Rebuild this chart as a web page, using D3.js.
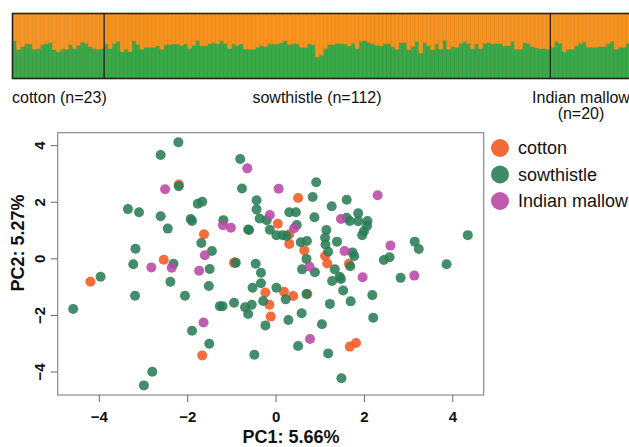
<!DOCTYPE html>
<html>
<head>
<meta charset="utf-8">
<script src="https://cdn.jsdelivr.net/npm/d3@7"></script>
<style>
  body { margin: 0; background: #fff; }
  svg { font-family: "Liberation Sans", Arial, sans-serif; }
</style>
</head>
<body>
<div id="chart"></div>
<script>
// ancestry proportions (share of the green cluster per individual)
const cottonAnc = [0.58,0.44,0.49,0.53,0.53,0.45,0.46,0.52,0.54,0.55,0.44,0.41,0.45,0.45,0.52,0.46,0.51,0.56,0.54,0.49,0.46,0.45,0.46];
const sowAnc = [0.53,0.46,0.54,0.57,0.41,0.45,0.41,0.58,0.52,0.45,0.48,0.48,0.48,0.50,0.45,0.52,0.52,0.53,0.53,0.51,
  0.53,0.46,0.51,0.58,0.50,0.50,0.53,0.55,0.53,0.58,0.54,0.46,0.53,0.51,0.53,0.45,0.45,0.45,0.48,0.51,
  0.49,0.53,0.53,0.53,0.55,0.58,0.52,0.53,0.53,0.48,0.48,
  0.53,0.52,0.33,0.36,0.46,0.52,0.52,0.54,0.53,0.53,0.50,0.54,0.46,0.57,0.58,0.55,0.53,0.51,0.50,0.53,
  0.54,0.49,0.45,0.55,0.55,0.44,0.49,0.57,0.39,0.55,0.50,0.44,0.53,0.45,0.59,0.45,0.49,0.48,0.54,0.57,
  0.54,0.46,0.53,0.46,0.54,0.55,0.53,0.54,0.54,0.50,0.50,0.57,0.45,0.45,0.55,0.54,0.49,0.47,0.46,0.46,0.45];
const mallowAnc = [0.48,0.57,0.54,0.41,0.45,0.45,0.50,0.54,0.56,0.48,0.48,0.48,0.49,0.49,0.53,0.57,0.45,0.48,0.48,0.54];

const groups = ["cotton", "sowthistle", "Indian mallow"];
const groupLabels = [["cotton (n=23)"], ["sowthistle (n=112)"], ["Indian mallow", "(n=20)"]];

// PCA scores [PC1, PC2]
const cottonPts = [[0.05,1.22],[-2.19,2.61],[-1.62,0.85],[-2.53,-0.05],[-0.94,-0.16],[-4.19,-0.83],[-0.23,-1.21],
  [0.19,-1.18],[-0.14,-1.64],[-0.11,-2.06],[-1.66,-3.43],[0.51,2.13],[0.31,0.85],[0.31,0.51],[0.65,0.28],
  [1.12,0.08],[1.17,-0.18],[1.66,-0.19],[0.40,-1.33],[0.72,-1.26],[1.68,-3.12],[1.82,-2.99],[-0.92,-0.14]];
const sowPts = [[-2.20,4.10],[-2.60,3.65],[-0.80,3.51],[-2.19,2.55],[-0.76,2.47],[-0.43,2.05],[-1.76,1.93],[-1.66,2.00],
  [-0.43,1.73],[-3.34,1.74],[-3.09,1.63],[-2.60,1.49],[-0.36,1.41],[-0.20,1.35],[-1.92,1.39],[-1.89,1.32],
  [-1.18,1.35],[-2.44,1.05],[-0.62,1.02],[-0.60,1.00],[-0.13,1.01],[0.02,0.82],[0.16,0.82],[0.25,0.79],
  [-1.68,0.54],[-1.44,0.26],[-3.17,0.34],[-2.31,-0.19],[-3.22,-0.21],[-0.90,-0.16],[-0.45,-0.19],[-1.49,-0.38],
  [-0.33,-0.51],[-3.96,-0.65],[-2.38,-0.83],
  [-4.58,-1.79],[-3.18,-1.32],[-1.51,-0.98],[-2.05,-1.32],[-0.33,-0.88],[-0.52,-1.04],[0.02,-1.04],[0.23,-1.45],
  [-0.28,-1.51],[-0.94,-1.57],[-1.26,-1.69],[-1.20,-1.69],[-0.69,-1.73],[-0.54,-1.64],[-0.62,-1.97],[-0.23,-2.37],
  [0.29,-2.18],[-1.89,-2.56],[-1.50,-3.02],[-0.48,-3.41],[-2.79,-4.01],[-2.98,-4.49],
  [0.92,2.69],[0.84,2.17],[1.27,1.84],[1.61,2.07],[0.31,1.63],[0.46,1.63],[0.88,1.45],[0.48,1.18],[1.61,1.43],
  [1.68,1.32],[1.87,1.59],[1.87,1.31],[2.08,1.32],[2.07,1.15],[2.00,0.96],[1.96,0.82],[1.15,1.00],[1.12,0.73],
  [1.13,0.49],[1.19,0.23],[1.39,0.59],[0.57,0.57],[0.71,0.61],[0.70,-0.02],[1.74,0.21],[1.78,0.08],[1.69,-0.28],
  [0.60,-0.39],[0.89,-0.49],[1.34,-0.39],[1.45,-0.65],[1.48,-0.73],[1.28,-0.80],[3.15,0.59],[3.24,0.33],
  [2.45,-0.06],[2.58,0.04],[2.83,-0.69],[3.87,-0.21],[4.35,0.82],
  [0.70,-1.26],[1.53,-1.14],[1.23,-1.61],[1.70,-1.52],[2.19,-1.30],[2.21,-2.10],[0.59,-1.94],[1.05,-2.33],
  [0.51,-3.10],[1.19,-3.36],[1.49,-4.24]];
const mallowPts = [[-0.64,3.18],[-2.50,2.44],[0.07,2.46],[-0.13,1.53],[-1.19,1.17],[-1.01,1.08],[-1.60,0.11],
  [-2.35,-0.33],[-2.81,-0.32],[-1.73,-0.44],[-1.63,-2.27],[2.31,2.23],[0.42,1.06],[1.48,1.39],[1.56,0.26],
  [0.77,-0.30],[1.97,-0.67],[2.60,0.45],[3.14,-0.61],[0.78,-2.85]];

const xTicks = [-4, -2, 0, 2, 4];
const yTicks = [-4, -2, 0, 2, 4];
const pcLabels = ["PC1: 5.66%", "PC2: 5.27%"];

const ptColor = {"cotton": "#f25a22", "sowthistle": "#2a7d57", "Indian mallow": "#b848a6"};
const barGreen = "#3aaa48", barOrange = "#f7931e";

let svg = d3.select("#chart").append("svg").attr("width", 629).attr("height", 447);

// ---- structure bar plot ----
let anc = cottonAnc.concat(sowAnc, mallowAnc);
let counts = [cottonAnc.length, sowAnc.length, mallowAnc.length];
let bar = {
  x: d3.scaleBand().domain(d3.range(anc.length)).range([12.5, 630]).padding(0),
  y: d3.scaleLinear().domain([0, 1]).range([78.5, 13.5])
};

let bars = svg.append("g").attr("id", "bars");
bars.selectAll(".bar-green").data(anc).enter().append("rect")
  .attr("class", "bar-green")
  .attr("x", (d, i) => bar.x(i))
  .attr("width", bar.x.bandwidth())
  .attr("y", d => bar.y(d))
  .attr("height", d => bar.y(0) - bar.y(d))
  .attr("fill", barGreen).attr("stroke", "#2f8e3b").attr("stroke-width", 0.5);
bars.selectAll(".bar-orange").data(anc).enter().append("rect")
  .attr("class", "bar-orange")
  .attr("x", (d, i) => bar.x(i))
  .attr("width", bar.x.bandwidth())
  .attr("y", bar.y(1))
  .attr("height", d => bar.y(d) - bar.y(1))
  .attr("fill", barOrange).attr("stroke", "#d9821a").attr("stroke-width", 0.5);

// group separators
let cum = 0;
counts.slice(0, -1).forEach(function(c){
  cum += c;
  let sx = bar.x(cum);
  bars.append("line").attr("x1", sx).attr("x2", sx).attr("y1", bar.y(1)).attr("y2", bar.y(0))
    .attr("stroke", "#222").attr("stroke-width", 1.3);
});
bars.append("rect").attr("x", bar.x(0)).attr("y", bar.y(1))
  .attr("width", bar.x(anc.length - 1) + bar.x.bandwidth() - bar.x(0))
  .attr("height", bar.y(0) - bar.y(1))
  .attr("fill", "none").attr("stroke", "#222").attr("stroke-width", 1.6);

// group labels under the bars
let labelPos = [{x: 12, anchor: "start"}, {x: 317, anchor: "middle"}, {x: 581, anchor: "middle"}];
groupLabels.forEach(function(lines, gi){
  let t = svg.append("text").attr("x", labelPos[gi].x).attr("y", 103)
    .attr("text-anchor", labelPos[gi].anchor).style("font-size", "16px").attr("fill", "#111");
  lines.forEach(function(l, li){
    t.append("tspan").attr("x", labelPos[gi].x).attr("dy", li == 0 ? 0 : 16).text(l);
  });
});

// ---- PCA scatter ----
let pca = {
  x: d3.scaleLinear().domain([-4.93, 4.71]).range([57.7, 483.7]),
  y: d3.scaleLinear().domain([-4.83, 4.44]).range([395, 132.7])
};

svg.append("rect").attr("x", pca.x.range()[0]).attr("y", pca.y.range()[1])
  .attr("width", pca.x.range()[1] - pca.x.range()[0])
  .attr("height", pca.y.range()[0] - pca.y.range()[1])
  .attr("fill", "none").attr("stroke", "#8a8a8a").attr("stroke-width", 1.2);

let xAxis = svg.append("g").attr("transform", "translate(0," + pca.y.range()[0] + ")")
  .call(d3.axisBottom(pca.x).tickValues(xTicks).tickSize(7).tickPadding(9));
xAxis.select(".domain").remove();
xAxis.selectAll("line").attr("stroke", "#666");
xAxis.selectAll("text").style("font-size", "15px").style("font-weight", "bold").attr("fill", "#111");

let yAxis = svg.append("g").attr("transform", "translate(" + pca.x.range()[0] + ",0)")
  .call(d3.axisLeft(pca.y).tickValues(yTicks).tickSize(7));
yAxis.select(".domain").remove();
yAxis.selectAll("line").attr("stroke", "#666");
yAxis.selectAll("text")
  .attr("x", 0).attr("y", -13).attr("dy", 0)
  .attr("transform", "rotate(-90)")
  .style("text-anchor", "middle")
  .style("font-size", "15px").style("font-weight", "bold").attr("fill", "#111");

svg.append("text").attr("x", 291).attr("y", 443).attr("text-anchor", "middle")
  .style("font-size", "18px").style("font-weight", "bold").attr("fill", "#111").text(pcLabels[0]);
svg.append("text").attr("transform", "translate(24,243) rotate(-90)").attr("text-anchor", "middle")
  .style("font-size", "18px").style("font-weight", "bold").attr("fill", "#111").text(pcLabels[1]);

let pointSets = [cottonPts, sowPts, mallowPts];
let pts = svg.append("g").attr("id", "points");
pointSets.forEach(function(set, gi){
  pts.selectAll(".pt-" + gi).data(set).enter().append("circle")
    .attr("class", "pt-" + gi)
    .attr("cx", d => pca.x(d[0]))
    .attr("cy", d => pca.y(d[1]))
    .attr("r", 5)
    .attr("fill", ptColor[groups[gi]])
    .attr("fill-opacity", 0.88);
});

// legend
let legend = svg.append("g").attr("id", "legend");
groups.forEach(function(g, i){
  let ly = 148 + i * 26.5;
  legend.append("circle").attr("cx", 500).attr("cy", ly).attr("r", 9)
    .attr("fill", ptColor[g]).attr("fill-opacity", 0.9);
  legend.append("text").attr("x", 518).attr("y", ly + 6).style("font-size", "18px").attr("fill", "#111").text(g);
});
</script>
</body>
</html>
